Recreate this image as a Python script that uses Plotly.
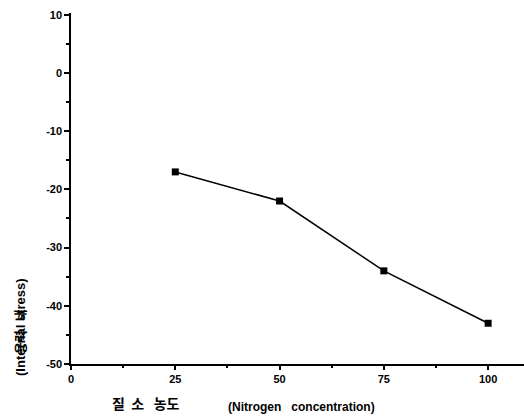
import plotly.graph_objects as go

nitrogen = [25, 50, 75, 100]
stress = [-17, -22, -34, -43]
y_ticks = [10, 0, -10, -20, -30, -40, -50]
y_tick_labels = ["10", "0", "-10", "-20", "-30", "-40", "-50"]
x_ticks = [0, 25, 50, 75, 100]
x_tick_labels = ["0", "25", "50", "75", "100"]

W, H = 524, 418
L, R, T, B = 71, 0, 13, 54
pw, ph = W - L - R, H - T - B

fig = go.Figure()
fig.add_trace(go.Scatter(
    x=nitrogen, y=stress, mode="lines+markers",
    line=dict(color="black", width=1.5),
    marker=dict(symbol="square", size=7, color="black"),
    showlegend=False, cliponaxis=False))

tickfont = dict(family="Liberation Sans", size=11, color="black")
fig.update_layout(
    width=W, height=H, margin=dict(l=L, r=R, t=T, b=B),
    paper_bgcolor="white", plot_bgcolor="white",
    font=dict(family="Liberation Sans", size=11, color="black"),
    xaxis=dict(range=[0, 108.6], tickvals=x_ticks,
               ticktext=["<b>%s</b>" % t for t in x_tick_labels],
               showgrid=False, zeroline=False, showline=True, linecolor="black",
               linewidth=1.5, ticks="outside", ticklen=4, tickwidth=1.5,
               tickcolor="black", minor=dict(dtick=12.5, tick0=0, ticks="outside", ticklen=2,
                                             tickcolor="black", tickwidth=1.5),
               tickfont=tickfont),
    yaxis=dict(range=[-50, 10.3], tickvals=y_ticks,
               ticktext=["<b>%s</b>" % t for t in y_tick_labels],
               showgrid=False, zeroline=False, showline=True, linecolor="black",
               linewidth=1.5, ticks="outside", ticklen=5, tickwidth=1.5,
               tickcolor="black", minor=dict(dtick=5, tick0=0, ticks="outside", ticklen=3,
                                             tickcolor="black", tickwidth=1.5),
               tickfont=tickfont),
)

def px_x(px):
    return (px - L) / pw

def px_y(py):
    return (H - B - py) / ph

def ann(cx, cy, text, family, size, angle=0):
    fig.add_annotation(x=px_x(cx), y=px_y(cy), xref="paper", yref="paper",
                       xanchor="center", yanchor="middle", text="<b>%s</b>" % text,
                       showarrow=False, textangle=angle,
                       font=dict(family=family, size=size, color="black"))

ann(146, 403, "질  소   농도", "Noto Sans CJK KR", 14)
ann(301, 407, "(Nitrogen   concentration)", "Liberation Sans", 12)
ann(20, 327, "(Internal stress)", "Liberation Sans", 13, -90)
ann(19, 332, "응력   내", "Noto Sans CJK KR", 13, -90)

fig.write_html("out.html")
